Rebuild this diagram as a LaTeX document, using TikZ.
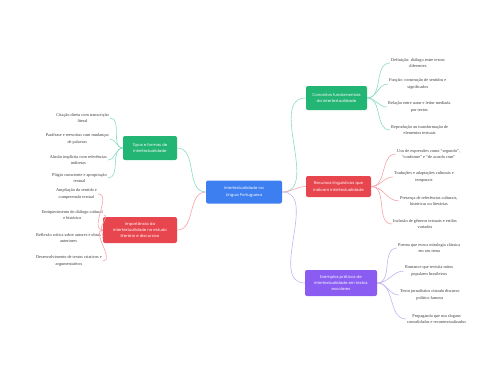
\documentclass[tikz,border=0pt]{standalone}
\usepackage{fontspec}
\setmainfont{Liberation Serif}
\newfontfamily\boxfont{Poppins}
\usetikzlibrary{positioning}

\definecolor{rootblue}{HTML}{3D7EF0}
\definecolor{tgreen}{HTML}{22B573}
\definecolor{tred}{HTML}{E8464E}
\definecolor{tpurple}{HTML}{8A5CF2}
\definecolor{lgreen}{HTML}{8ADCC4}
\definecolor{lred}{HTML}{F5A3AB}
\definecolor{lpurple}{HTML}{C3B3F3}
\definecolor{leaftxt}{HTML}{3A3A3A}

\begin{document}
\begin{tikzpicture}[x=1pt,y=-1pt,
  hub/.style={rounded corners=2pt,text=white,align=center,inner sep=0pt,
    font=\boxfont\fontsize{3.9}{6.2}\selectfont},
  leaf/.style={align=center,text=leaftxt,inner sep=1pt,
    font=\fontsize{4.3}{6.4}\selectfont},
  link/.style={line width=0.6pt},
]
\useasboundingbox (0,0) rectangle (480,384);

% central topic
\node[hub,fill=rootblue,minimum width=76pt,minimum height=23pt] (root) at (244,192)
  {Intertextualidade na\\Língua Portuguesa};

% main branches
\node[hub,fill=tgreen,minimum width=61pt,minimum height=24pt] (cf) at (336.5,98)
  {Conceitos fundamentais\\da intertextualidade};
\node[hub,fill=tred,minimum width=65pt,minimum height=21pt] (rl) at (338.5,186.5)
  {Recursos linguísticos que\\indicam intertextualidade};
\node[hub,fill=tpurple,minimum width=72pt,minimum height=26pt] (ep) at (341,283)
  {Exemplos práticos de\\intertextualidade em textos\\escolares};
\node[hub,fill=tgreen,minimum width=54pt,minimum height=24pt] (tf) at (150,148)
  {Tipos e formas de\\intertextualidade};
\node[hub,fill=tred,minimum width=74pt,minimum height=26pt] (im) at (140,230)
  {Importância da\\intertextualidade no estudo\\literário e discursivo};

% leaves, right side
\node[leaf,anchor=west] (cf1) at (390,63) {Definição: diálogo entre textos\\diferentes};
\node[leaf,anchor=west] (cf2) at (388,84) {Função: construção de sentidos e\\significados};
\node[leaf,anchor=west] (cf3) at (387,107) {Relação entre autor e leitor mediada\\por textos};
\node[leaf,anchor=west] (cf4) at (390,130) {Reprodução ou transformação de\\elementos textuais};

\node[leaf,anchor=west] (rl1) at (396,154) {Uso de expressões como “segundo”,\\“conforme” e “de acordo com”};
\node[leaf,anchor=west] (rl2) at (393,177) {Traduções e adaptações culturais e\\temporais};
\node[leaf,anchor=west] (rl3) at (399,201) {Presença de referências culturais,\\históricas ou literárias};
\node[leaf,anchor=west] (rl4) at (392,224) {Inclusão de gêneros textuais e estilos\\variados};

\node[leaf,anchor=west] (ep1) at (397,248) {Poema que evoca mitologia clássica\\em seu tema};
\node[leaf,anchor=west] (ep2) at (404,271) {Romance que revisita mitos\\populares brasileiros};
\node[leaf,anchor=west] (ep3) at (399,295) {Texto jornalístico citando discurso\\político famoso};
\node[leaf,anchor=west] (ep4) at (406,319) {Propaganda que usa slogans\\consolidados e recontextualizados};

% leaves, left side
\node[leaf,anchor=east] (tf1) at (110,118) {Citação direta com transcrição\\literal};
\node[leaf,anchor=east] (tf2) at (110,139) {Paráfrase e reescritas com mudanças\\de palavras};
\node[leaf,anchor=east] (tf3) at (108,160) {Alusão implícita com referências\\indiretas};
\node[leaf,anchor=east] (tf4) at (108,178) {Plágio consciente e apropriação\\textual};

\node[leaf,anchor=east] (im1) at (98,194) {Ampliação do sentido e\\compreensão textual};
\node[leaf,anchor=east] (im2) at (104,215) {Enriquecimento do diálogo cultural\\e histórico};
\node[leaf,anchor=east] (im3) at (102,238) {Reflexão crítica sobre autores e obras\\anteriores};
\node[leaf,anchor=east] (im4) at (103,261) {Desenvolvimento de textos criativos e\\argumentativos};

% connectors
\draw[link,lgreen] (root.east) to[out=0,in=180] (cf.west);
\draw[link,lred] (root.east) to[out=0,in=180] (rl.west);
\draw[link,lpurple] (root.east) to[out=0,in=180] (ep.west);
\draw[link,lgreen] (root.west) to[out=180,in=0] (tf.east);
\draw[link,lred] (root.west) to[out=180,in=0] (im.east);

\foreach \i in {1,...,4} {
  \draw[link,lgreen] (cf.east) to[out=0,in=180] (cf\i.west);
  \draw[link,lred] (rl.east) to[out=0,in=180] (rl\i.west);
  \draw[link,lpurple] (ep.east) to[out=0,in=180] (ep\i.west);
  \draw[link,lgreen] (tf.west) to[out=180,in=0] (tf\i.east);
  \draw[link,lred] (im.west) to[out=180,in=0] (im\i.east);
}
\end{tikzpicture}
\end{document}
